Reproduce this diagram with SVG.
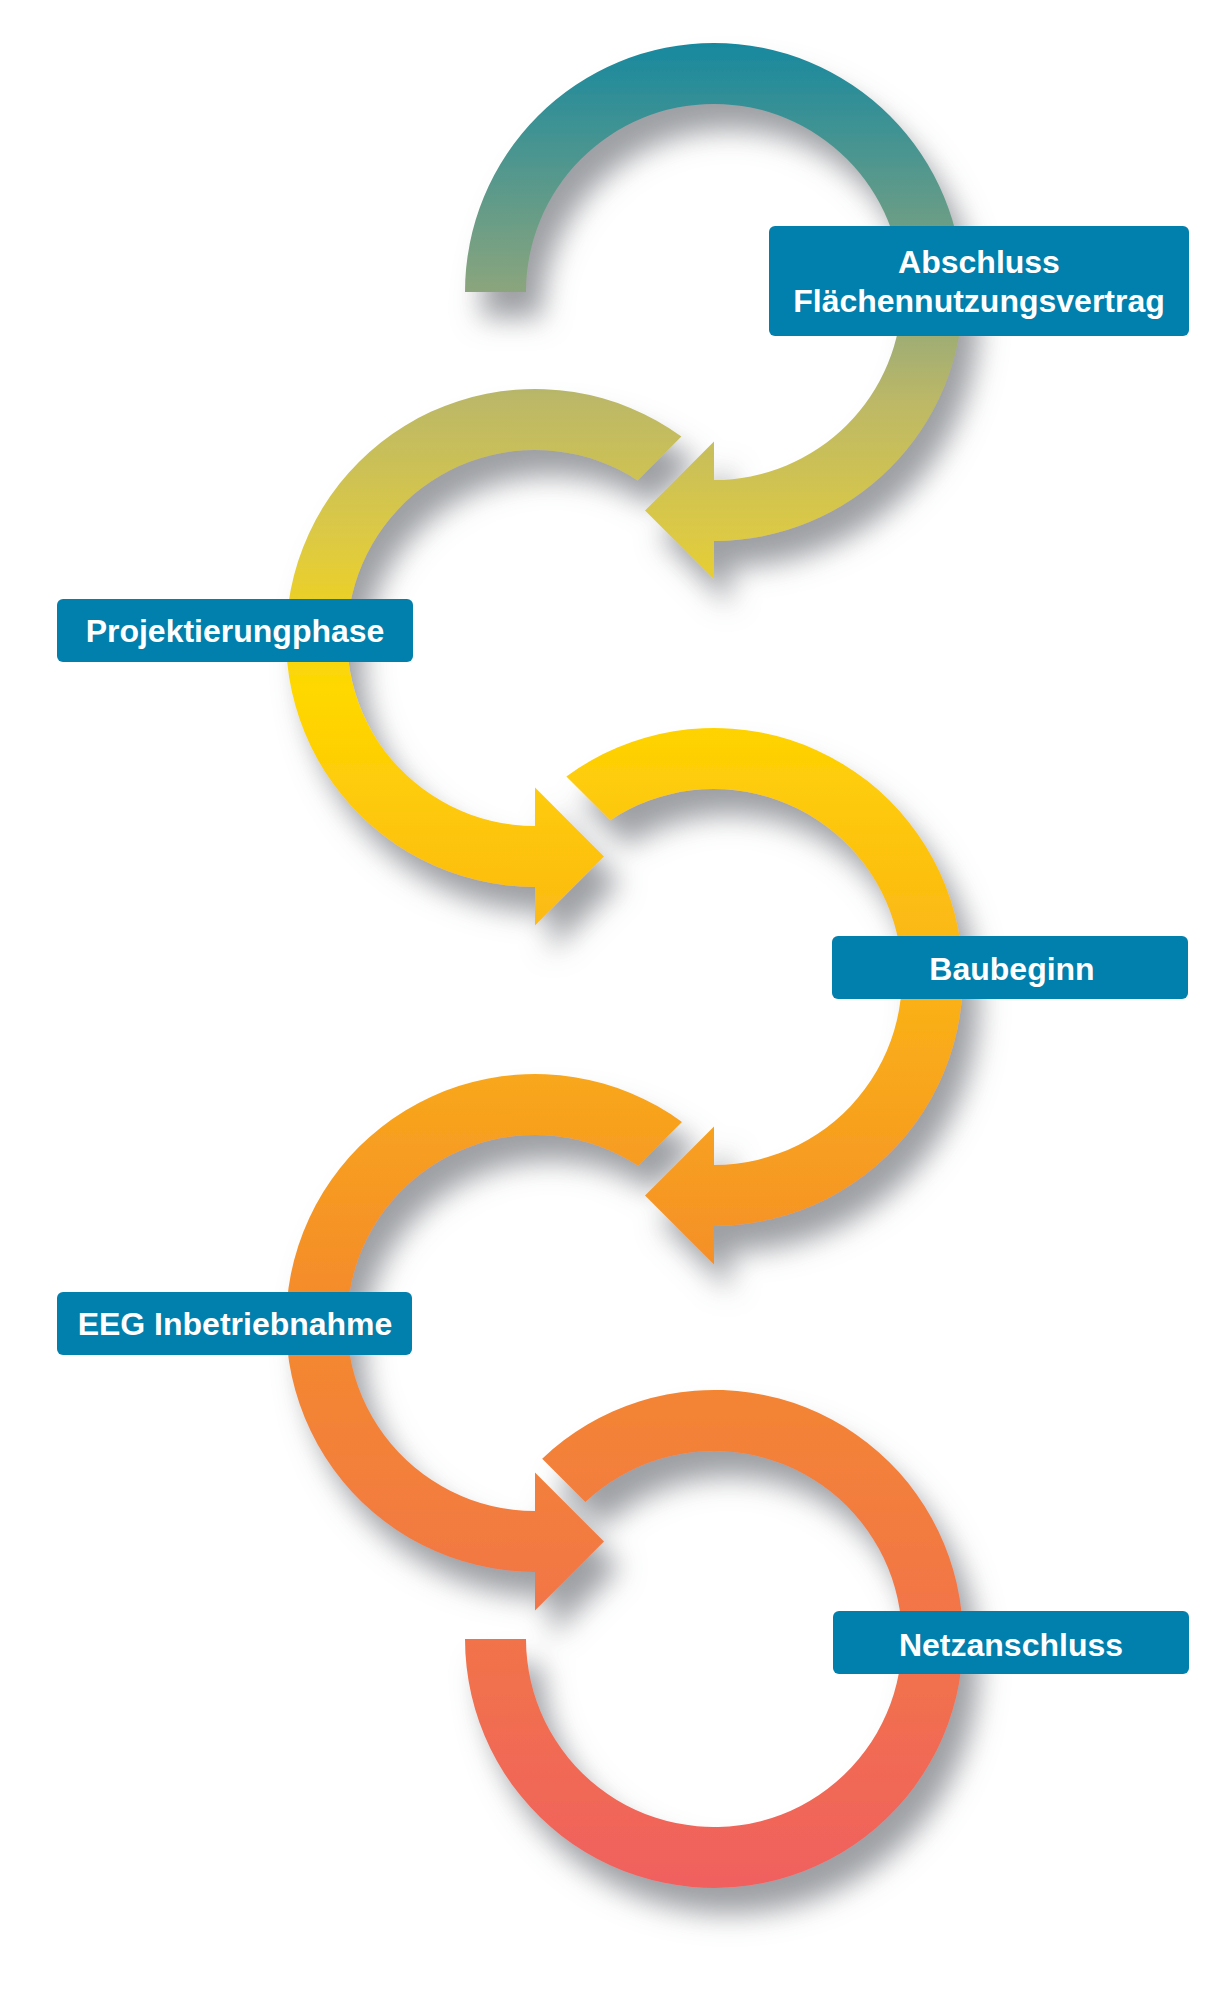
<svg xmlns="http://www.w3.org/2000/svg" width="1224" height="1996" viewBox="0 0 1224 1996">
<style>
.box{fill:#017fad;}
.lbl{font-family:"Liberation Sans",Arial,sans-serif;font-weight:bold;font-size:32px;fill:#ffffff;text-anchor:middle;}
.arc{fill:url(#grad);}
</style>
<defs>
<linearGradient id="grad" gradientUnits="userSpaceOnUse" x1="0" y1="40" x2="0" y2="1890">
<stop offset="0" stop-color="#16889f"/>
<stop offset="0.135" stop-color="#8aa57d"/>
<stop offset="0.195" stop-color="#bcb867"/>
<stop offset="0.27" stop-color="#ddca43"/>
<stop offset="0.351" stop-color="#ffd800"/>
<stop offset="0.465" stop-color="#fcbd12"/>
<stop offset="0.573" stop-color="#f8a41d"/>
<stop offset="0.681" stop-color="#f48b2b"/>
<stop offset="0.816" stop-color="#f27a42"/>
<stop offset="1" stop-color="#f0605f"/>
</linearGradient>
<filter id="shadow" x="-15%" y="-10%" width="140%" height="130%">
<feGaussianBlur in="SourceAlpha" stdDeviation="14"/>
<feOffset dx="16" dy="26" result="b"/>
<feFlood flood-color="#74777d" flood-opacity="0.7"/>
<feComposite in2="b" operator="in"/>
<feMerge><feMergeNode/><feMergeNode in="SourceGraphic"/></feMerge>
</filter>
</defs>
<rect width="1224" height="1996" fill="#ffffff"/>
<g id="connectors" filter="url(#shadow)">
<path class="arc" d="M 465 292 A 249 249 0 1 1 714 541 L 714 579.5 L 645 510.5 L 714 441.5 L 714 480 A 188 188 0 1 0 526 292 Z"/>
<path class="arc" d="M 681.4 436.6 A 249 249 0 1 0 535 887 L 535 925.5 L 604 856.5 L 535 787.5 L 535 826 A 188 188 0 1 1 637.6 480.4 Z"/>
<path class="arc" d="M 566.4 776.4 A 249 249 0 1 1 714 1226 L 714 1264.5 L 645 1195.5 L 714 1126.5 L 714 1165 A 188 188 0 1 0 610.2 820.2 Z"/>
<path class="arc" d="M 682 1122 A 249 249 0 1 0 535 1572 L 535 1610.5 L 604 1541.5 L 535 1472.5 L 535 1511 A 188 188 0 1 1 638.2 1165.8 Z"/>
<path class="arc" d="M 542.2 1458.7 A 249 249 0 1 1 465 1639 L 526 1639 A 188 188 0 1 0 585.4 1501.9 Z"/>
</g>
<g id="node1">
<rect class="box" x="769" y="226" width="420" height="110" rx="6"/>
<text class="lbl" x="979" y="273">Abschluss</text>
<text class="lbl" x="979" y="312">Flächennutzungsvertrag</text>
</g>
<g id="node2">
<rect class="box" x="57" y="599" width="356" height="63" rx="6"/>
<text class="lbl" x="235" y="642">Projektierungphase</text>
</g>
<g id="node3">
<rect class="box" x="832" y="936" width="356" height="63" rx="6"/>
<text class="lbl" x="1012" y="980">Baubeginn</text>
</g>
<g id="node4">
<rect class="box" x="57" y="1292" width="355" height="63" rx="6"/>
<text class="lbl" x="235" y="1335">EEG Inbetriebnahme</text>
</g>
<g id="node5">
<rect class="box" x="833" y="1611" width="356" height="63" rx="6"/>
<text class="lbl" x="1011" y="1656">Netzanschluss</text>
</g>
</svg>
